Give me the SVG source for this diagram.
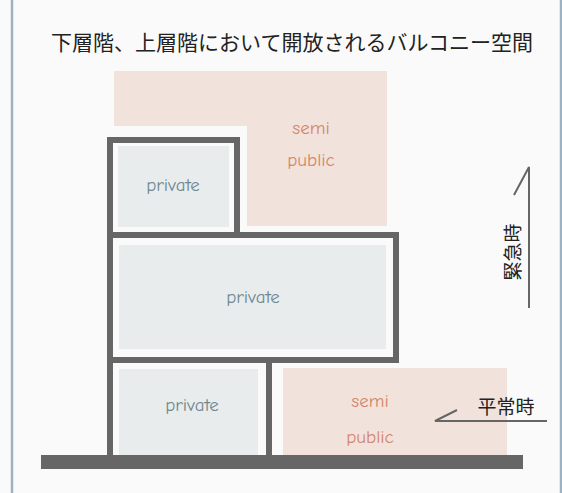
<svg xmlns="http://www.w3.org/2000/svg" width="562" height="493" viewBox="0 0 562 493">
<style>
.wall{fill:none;stroke:#666;stroke-width:6}
.priv{fill:#e9eced}
.semi{fill:#f2e2dc}
.lbl{font-family:"Comic Neue","Noto Sans","DejaVu Sans",sans-serif;font-size:19px;text-anchor:middle}
.pt{fill:#6f8890}
.st{fill:#d4866a}
.jp{font-family:"Noto Sans CJK JP","Noto Sans",sans-serif;fill:#222}
.arr{fill:none;stroke:#666;stroke-width:2}
</style>
<rect x="0" y="0" width="562" height="493" fill="#fafafa"/>
<line x1="12" y1="0" x2="12" y2="493" stroke="#9db3c3" stroke-width="2.5"/>
<line x1="561" y1="0" x2="561" y2="493" stroke="#9db3c3" stroke-width="2.5"/>
<text class="jp" x="292" y="50" font-size="21" text-anchor="middle">下層階、上層階において開放されるバルコニー空間</text>
<g id="semi-upper">
<polygon class="semi" points="114,71 387,71 387,226 247,226 247,126 114,126"/>
<text class="lbl st" x="311" y="134">semi</text>
<text class="lbl st" x="311" y="166">public</text>
</g>
<g id="semi-lower">
<rect class="semi" x="283" y="368" width="224" height="87"/>
<text class="lbl st" x="370" y="407">semi</text>
<text class="lbl st" x="370" y="443">public</text>
</g>
<g id="private-top">
<rect class="priv" x="118" y="146" width="111" height="81"/>
<text class="lbl pt" x="173" y="191">private</text>
</g>
<g id="private-mid">
<rect class="priv" x="119" y="245" width="267" height="104"/>
<text class="lbl pt" x="253" y="303">private</text>
</g>
<g id="private-low">
<rect class="priv" x="119" y="369" width="139" height="86"/>
<text class="lbl pt" x="192" y="411">private</text>
</g>
<g id="walls">
<rect class="wall" x="110" y="140" width="127" height="95"/>
<rect class="wall" x="110" y="235" width="286" height="125"/>
<line class="wall" x1="110" y1="360" x2="110" y2="456"/>
<line class="wall" x1="269" y1="360" x2="269" y2="456"/>
<rect x="41" y="455" width="482" height="14" fill="#666"/>
</g>
<g id="connectors">
<polyline class="arr" points="514,195 529,167 529,308"/>
<polyline class="arr" points="457,410 435,421 547,421"/>
</g>
<g id="label-emergency">
<text class="jp" font-size="19" text-anchor="middle" transform="translate(520,252) rotate(-90)">緊急時</text>
</g>
<g id="label-normal">
<text class="jp" x="506" y="414" font-size="19" text-anchor="middle">平常時</text>
</g>
</svg>
